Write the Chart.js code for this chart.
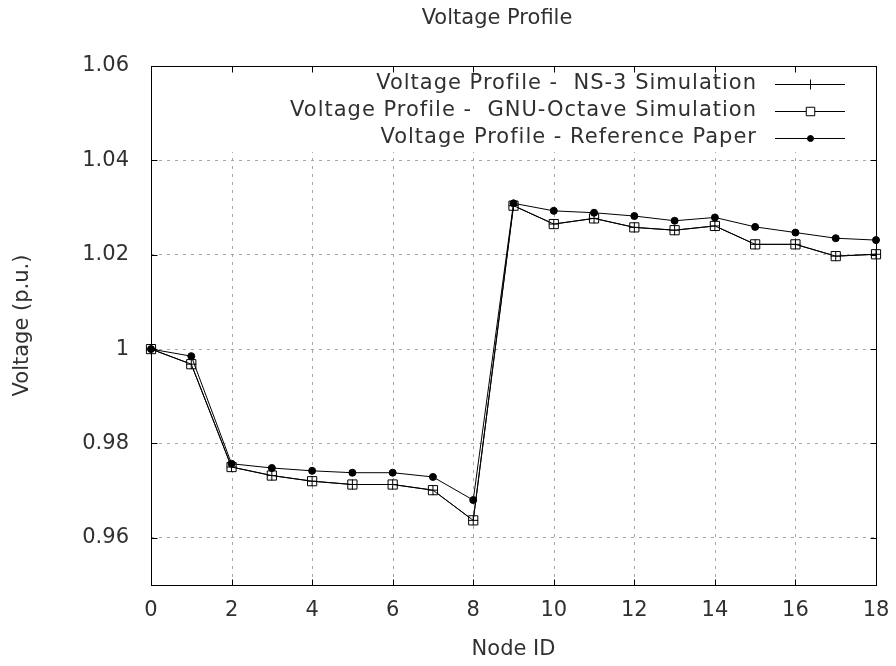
<!DOCTYPE html>
<html>
<head>
<meta charset="utf-8">
<script src="https://cdn.jsdelivr.net/npm/chart.js@4.4.1/dist/chart.umd.min.js"></script>
<style>
  html, body { margin: 0; padding: 0; background: #fff; }
  #wrap { width: 896px; height: 666px; position: relative; }
</style>
</head>
<body>
<div id="wrap"><canvas id="myChart"></canvas></div>
<script>
// node ids on the x axis
const nodes = [0, 1, 2, 3, 4, 5, 6, 7, 8, 9, 10, 11, 12, 13, 14, 15, 16, 17, 18];

// voltages (p.u.)
const ns3Voltage = [1.000, 0.9968, 0.9750, 0.9732, 0.9720, 0.9713, 0.9713, 0.9701, 0.9637,
  1.0304, 1.0265, 1.0277, 1.0258, 1.0252, 1.0261, 1.0222, 1.0222, 1.0197, 1.0201];
const octaveVoltage = [1.000, 0.9968, 0.9750, 0.9732, 0.9720, 0.9713, 0.9713, 0.9701, 0.9637,
  1.0304, 1.0265, 1.0277, 1.0258, 1.0252, 1.0261, 1.0222, 1.0222, 1.0197, 1.0201];
const paperVoltage = [1.000, 0.9985, 0.9757, 0.9748, 0.9742, 0.9738, 0.9738, 0.9729, 0.9680,
  1.0309, 1.0293, 1.0289, 1.0282, 1.0272, 1.0279, 1.0259, 1.0247, 1.0235, 1.0231];

const xTicks = [0, 2, 4, 6, 8, 10, 12, 14, 16, 18];
const yTicks = [0.96, 0.98, 1.00, 1.02, 1.04, 1.06];

const seriesNames = [
  'Voltage Profile -  NS-3 Simulation',
  'Voltage Profile -  GNU-Octave Simulation',
  'Voltage Profile - Reference Paper'
];

const FONT = 'DejaVu Sans';
const INK = '#000';
const TEXT = '#303030';
const GRID = '#a6a6a6';

const pts = (ys) => nodes.map((x, i) => ({ x: x, y: ys[i] }));

// gnuplot look: border box, inward ticks, key, title
const gnuplotFrame = {
  id: 'gnuplotFrame',
  beforeDatasetsDraw(chart) {
    const { ctx, chartArea: a, scales: { x } } = chart;
    const keyBottom = 152;
    ctx.save();
    ctx.strokeStyle = GRID;
    ctx.lineWidth = 1;
    ctx.setLineDash([3, 5]);
    xTicks.slice(1, -1).forEach(v => {
      const px = Math.round(x.getPixelForValue(v)) + 0.5;
      ctx.beginPath();
      ctx.moveTo(px, a.bottom);
      ctx.lineTo(px, keyBottom);
      ctx.stroke();
    });
    ctx.restore();
  },
  afterDatasetsDraw(chart) {
    const { ctx, chartArea: a, scales: { x, y } } = chart;
    ctx.save();
    ctx.strokeStyle = INK;
    ctx.lineWidth = 1;
    ctx.setLineDash([]);
    const L = Math.round(a.left) + 0.5, R = Math.round(a.right) + 0.5;
    const T = Math.round(a.top) + 0.5, B = Math.round(a.bottom) + 0.5;
    ctx.strokeRect(L, T, R - L, B - T);
    ctx.beginPath();
    xTicks.slice(1, -1).forEach(v => {
      const px = Math.round(x.getPixelForValue(v)) + 0.5;
      ctx.moveTo(px, B); ctx.lineTo(px, B - 6);
      ctx.moveTo(px, T); ctx.lineTo(px, T + 6);
    });
    yTicks.slice(0, -1).forEach(v => {
      const py = Math.round(y.getPixelForValue(v)) + 0.5;
      ctx.moveTo(L, py); ctx.lineTo(L + 6, py);
      ctx.moveTo(R, py); ctx.lineTo(R - 6, py);
    });
    ctx.stroke();

    // key
    const rows = [84, 111, 138];
    const keySymbols = [
      { pointStyle: 'cross', radius: 5, fill: INK },
      { pointStyle: 'rect', radius: 6, fill: '#fff' },
      { pointStyle: 'circle', radius: 3, fill: INK }
    ];
    chart.data.datasets.forEach((ds, i) => {
      const ry = rows[i];
      ctx.font = '21px "' + FONT + '"';
      ctx.letterSpacing = '1px';
      ctx.fillStyle = TEXT;
      ctx.textAlign = 'right';
      ctx.textBaseline = 'middle';
      ctx.fillText(seriesNames[i], 757, ry);
      ctx.strokeStyle = INK;
      ctx.beginPath();
      ctx.moveTo(775, ry + 0.5); ctx.lineTo(845, ry + 0.5);
      ctx.stroke();
      const k = keySymbols[i];
      ctx.fillStyle = k.fill;
      Chart.helpers.drawPoint(ctx, { pointStyle: k.pointStyle, radius: k.radius, borderWidth: 1 }, 810.5, ry + 0.5);
    });

    // title
    ctx.letterSpacing = '0px';
    ctx.font = '21px "' + FONT + '"';
    ctx.fillStyle = TEXT;
    ctx.textAlign = 'center';
    ctx.textBaseline = 'middle';
    ctx.fillText('Voltage Profile', 497, 19);
    ctx.restore();
  }
};

new Chart(document.getElementById('myChart'), {
  type: 'line',
  data: {
    datasets: [
      {
        label: seriesNames[0],
        data: pts(ns3Voltage),
        borderColor: INK, backgroundColor: INK, borderWidth: 1,
        pointStyle: 'cross', pointRadius: 5, pointBorderColor: INK, pointBorderWidth: 1,
        order: 1, clip: false
      },
      {
        label: seriesNames[1],
        data: pts(octaveVoltage),
        borderColor: INK, backgroundColor: '#fff', borderWidth: 1,
        pointStyle: 'rect', pointRadius: 6.5, pointBorderColor: INK, pointBackgroundColor: '#fff', pointBorderWidth: 1,
        order: 2, clip: false
      },
      {
        label: seriesNames[2],
        data: pts(paperVoltage),
        borderColor: INK, backgroundColor: INK, borderWidth: 1,
        pointStyle: 'circle', pointRadius: 3.5, pointBorderColor: INK, pointBackgroundColor: INK, pointBorderWidth: 1,
        order: 0, clip: false
      }
    ]
  },
  options: {
    responsive: true,
    maintainAspectRatio: false,
    animation: false,
    layout: { padding: { top: 66, right: 20, left: 0, bottom: 0 } },
    plugins: { legend: { display: false }, tooltip: { enabled: false }, title: { display: false } },
    elements: { line: { tension: 0 } },
    scales: {
      x: {
        type: 'linear', min: 0, max: 18,
        afterBuildTicks: s => { s.ticks = xTicks.map(v => ({ value: v })); },
        afterFit: s => { s.height = 81; s.paddingLeft = 0; s.paddingRight = 0; },
        grid: { display: false, drawTicks: false },
        border: { display: false },
        ticks: { color: TEXT, padding: 13, maxRotation: 0, font: { family: FONT, size: 21 },
          callback: v => String(v) },
        title: { display: true, text: 'Node ID', color: TEXT, font: { family: FONT, size: 21 },
          padding: { top: 0, bottom: 4 } }
      },
      y: {
        min: 0.95, max: 1.06,
        afterBuildTicks: s => { s.ticks = yTicks.map(v => ({ value: v })); },
        afterFit: s => { s.width = 151; s.paddingTop = 0; s.paddingBottom = 0; },
        grid: { color: GRID, lineWidth: 1, drawTicks: false },
        border: { display: false, dash: [3, 5] },
        ticks: { color: TEXT, padding: 22, font: { family: FONT, size: 21 },
          callback: v => String(Number(v.toFixed(2))) },
        title: { display: true, text: 'Voltage (p.u.)', color: TEXT, font: { family: FONT, size: 21 },
          padding: { top: 10, bottom: 0 } }
      }
    }
  },
  plugins: [gnuplotFrame]
});
</script>
</body>
</html>
